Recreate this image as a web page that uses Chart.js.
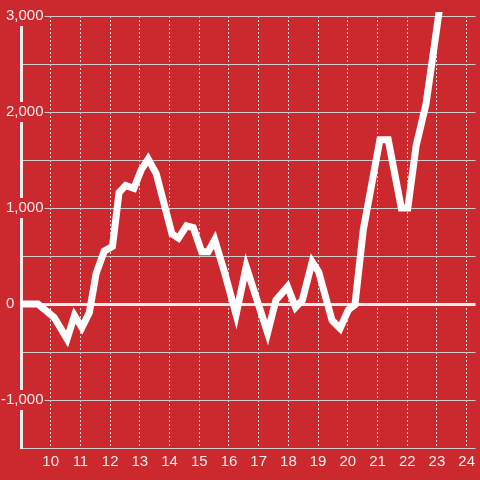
<!DOCTYPE html>
<html><head><meta charset="utf-8">
<script src="https://cdn.jsdelivr.net/npm/chart.js@4/dist/chart.umd.min.js"></script>
<style>html,body{margin:0;padding:0;background:#cc292e;overflow:hidden}</style>
</head><body>
<canvas id="c" width="480" height="480"></canvas>
<script>
const hours = [9.0, 9.57, 10.12, 10.55, 10.8, 11.05, 11.3, 11.53, 11.8, 12.08, 12.3, 12.52, 12.8, 13.05, 13.28, 13.55, 14.08, 14.3, 14.57, 14.8, 15.08, 15.3, 15.52, 15.85, 16.24, 16.58, 17.3, 17.58, 17.97, 18.24, 18.47, 18.8, 19.02, 19.47, 19.74, 20.02, 20.24, 20.52, 21.08, 21.36, 21.8, 22.02, 22.3, 22.63, 22.87, 23.08];
const values = [0, 0, -140, -365, -120, -245, -90, 320, 550, 600, 1160, 1235, 1205, 1400, 1510, 1360, 730, 685, 815, 795, 545, 545, 670, 330, -110, 390, -300, 40, 180, -35, 40, 440, 335, -170, -255, -60, -10, 770, 1710, 1710, 1000, 1000, 1650, 2080, 2600, 3060];
const xTicks = [10, 11, 12, 13, 14, 15, 16, 17, 18, 19, 20, 21, 22, 23, 24];
const yTicks = [-1500, -1000, -500, 0, 500, 1000, 1500, 2000, 2500, 3000];
const yTickLabels = ['', '-1,000', '', '0       ', '', '1,000', '', '2,000', '', '3,000'];

const BG = '#cc292e';
const FONT = {family: '"Liberation Sans", Arial, sans-serif', size: 15};

new Chart(document.getElementById('c'), {
  type: 'line',
  data: {
    datasets: [{
      data: hours.map((h, i) => ({x: h, y: values[i]})),
      borderColor: '#ffffff',
      borderWidth: 7,
      borderJoinStyle: 'miter',
      pointRadius: 0,
      tension: 0,
      fill: false,
      clip: 4
    }]
  },
  options: {
    responsive: false,
    animation: false,
    events: [],
    layout: {padding: {top: 16, left: 0, right: 0, bottom: 0}},
    plugins: {legend: {display: false}, tooltip: {enabled: false}},
    scales: {
      x: {
        type: 'linear',
        min: 9, max: 24.3,
        afterFit: s => { s.height = 32; },
        afterBuildTicks: s => { s.ticks = xTicks.map(v => ({value: v})); },
        grid: {color: '#dddddd', lineWidth: 1, drawTicks: false},
        border: {display: false, dash: [2, 2]},
        ticks: {
          autoSkip: false, maxRotation: 0, padding: 5,
          color: '#eeeeee', font: FONT,
          callback: v => String(v)
        }
      },
      y: {
        type: 'linear',
        min: -1500, max: 3000,
        afterFit: s => { s.width = 21; },
        afterBuildTicks: s => { s.ticks = yTicks.map(v => ({value: v})); },
        grid: {
          color: c => (c.tick && c.tick.value === 0) ? '#eeeeee' : '#cccccc',
          lineWidth: c => (c.tick && c.tick.value === 0) ? 3 : 1,
          drawTicks: false
        },
        border: {display: true, color: '#eeeeee', width: 3},
        ticks: {
          mirror: true,
          padding: -20,
          crossAlign: 'far',
          color: '#eeeeee', font: FONT,
          showLabelBackdrop: true,
          backdropPadding: 1,
          backdropColor: c => {
            const i = yTicks.indexOf(c.tick ? c.tick.value : NaN);
            return (i >= 0 && yTickLabels[i] !== '' && c.tick.value !== 0) ? BG : 'rgba(0,0,0,0)';
          },
          callback: (v) => { const i = yTicks.indexOf(v); return i >= 0 ? yTickLabels[i] : ''; }
        }
      }
    }
  }
});
</script>
</body></html>
